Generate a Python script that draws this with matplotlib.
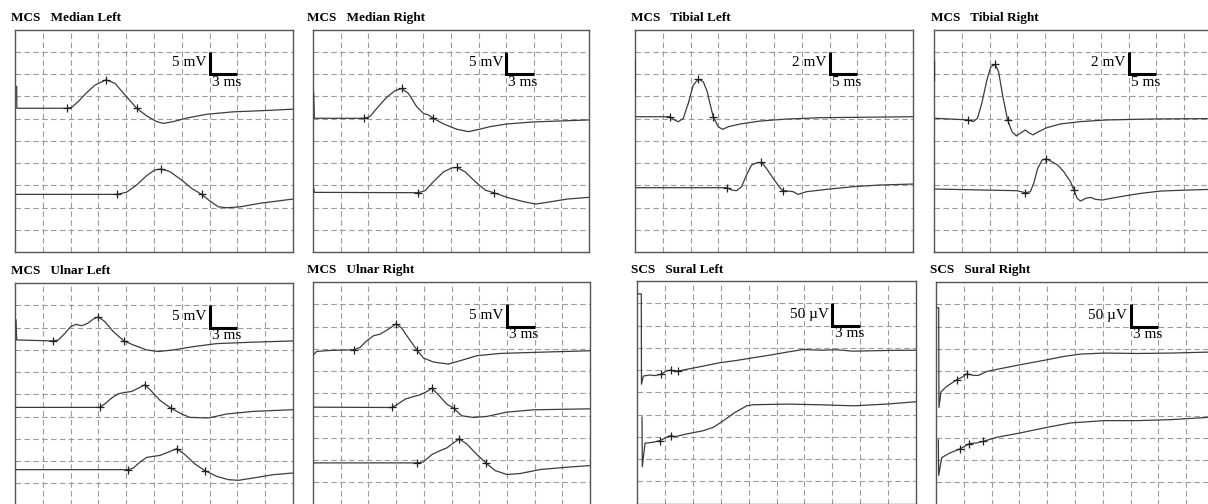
import numpy as np
import matplotlib
matplotlib.use("Agg")
import matplotlib.pyplot as plt

nan = np.nan

# ---- traces: time (ms) and amplitude (mV or uV) relative to baseline ----
# Median Left (3 ms/div, 5 mV/div)
medL_t1 = [0.18, 0.2, 5.58, 6.12, 6.83, 7.73, 8.63, 9.82, 10.79, 11.87, 13.13, 14.2, 15.29, 16.0, 17.09, 18.53, 20.68, 23.56, 27.16, 30.0]
medL_a1 = [4.9, 0, 0, 0.2, 1.5, 3.5, 5.2, 6.4, 5.6, 3.0, 0, -1.7, -3.0, -3.4, -3.0, -2.2, -1.35, -0.8, -0.5, -0.2]
medL_m1 = [2, 7, 10]
medL_t2 = [0.18, 11.04, 12.05, 13.13, 14.2, 15.1, 15.76, 16.73, 17.99, 19.06, 20.14, 21.04, 21.94, 22.84, 24.28, 26.44, 30.0]
medL_a2 = [0, 0, 0.5, 2.1, 4.2, 5.5, 5.7, 5.1, 3.2, 1.35, 0, -1.5, -2.8, -3.0, -2.8, -2.0, -1.05]
medL_m2 = [1, 6, 10]

# Median Right (3 ms/div, 5 mV/div)
medR_t1 = [0.07, 0.15, 5.56, 6.18, 7.09, 8.0, 8.91, 9.64, 10.36, 11.27, 12.0, 12.55, 13.09, 14.18, 15.64, 16.91, 17.82, 19.27, 21.09, 24.0, 30.0]
medR_a1 = [5.6, 0, 0, 0.37, 2.6, 4.7, 6.2, 6.7, 5.6, 2.6, 1.1, 0.75, 0, -1.27, -2.47, -3.0, -2.6, -1.87, -1.27, -0.82, -0.37]
medR_m1 = [2, 7, 12]
medR_t2 = [0.07, 0.15, 11.45, 12.18, 13.09, 14.18, 15.09, 15.64, 16.55, 17.64, 18.73, 19.64, 21.09, 22.91, 24.18, 25.45, 27.64, 30.0]
medR_a2 = [0.9, 0, -0.07, 0.37, 2.4, 4.6, 5.5, 5.6, 4.6, 2.4, 0.5, -0.07, -1.12, -2.1, -2.62, -2.24, -1.5, -1.12]
medR_m2 = [2, 7, 11]

# Tibial Left (5 ms/div, 2 mV/div)
tibL_t1 = [0.05, 0.05, nan, 0.3, 6.29, 6.89, 7.78, 8.68, 9.58, 10.48, 11.38, 12.28, 13.0, 13.47, 14.07, 14.97, 15.75, 16.77, 18.86, 22.46, 27.25, 33.23, 50]
tibL_a1 = [5.1, 2.1, nan, 0, 0, -0.24, -0.45, -0.15, 1.2, 2.84, 3.38, 3.14, 2.24, 1.2, 0, -0.9, -1.14, -0.9, -0.66, -0.39, -0.21, -0.09, 0]
tibL_m1 = [4, 10, 14]
tibL_t2 = [0.3, 16.59, 17.37, 18.26, 19.16, 20.06, 20.96, 21.86, 22.75, 23.65, 24.85, 25.93, 26.53, 27.54, 28.44, 29.34, 30.84, 34.43, 39.22, 44.01, 50]
tibL_a2 = [0, 0, -0.21, -0.27, 0.09, 1.14, 2.03, 2.24, 2.27, 1.73, 0.84, 0.09, -0.27, -0.3, -0.36, -0.6, -0.36, -0.15, 0.09, 0.24, 0.33]
tibL_m2 = [1, 8, 12]

# Tibial Right (5 ms/div, 2 mV/div)
tibR_t1 = [0.1, 0.1, nan, 0.18, 6.2, 7.1, 7.82, 8.6, 9.51, 10.23, 11.01, 11.61, 12.39, 13.24, 14.02, 14.8, 15.52, 16.43, 17.03, 17.81, 18.83, 20.34, 22.74, 26.35, 31.17, 39.59, 50]
tibR_a1 = [5.1, 3.4, nan, 0, -0.15, -0.3, 0, 1.35, 3.44, 4.63, 4.84, 4.19, 1.94, -0.15, -1.2, -1.58, -1.35, -1.05, -1.29, -1.49, -1.2, -0.84, -0.51, -0.3, -0.15, -0.06, -0.03]
tibR_m1 = [4, 10, 13]
tibR_t2 = [0.18, 14.92, 16.43, 17.33, 17.93, 18.65, 19.43, 20.16, 21.24, 22.26, 23.35, 24.55, 25.15, 25.75, 26.35, 27.26, 28.16, 29.06, 30.26, 31.77, 34.17, 37.18, 40.79, 45.6, 50]
tibR_a2 = [0, -0.15, -0.33, -0.24, 0.51, 1.85, 2.6, 2.72, 2.45, 2.15, 1.55, 0.66, -0.09, -0.84, -1.08, -0.84, -0.75, -0.93, -0.99, -0.84, -0.63, -0.39, -0.18, -0.09, -0.03]
tibR_m2 = [2, 7, 12]

# Ulnar Left (3 ms/div, 5 mV/div)
ulnL_t1 = [0.11, 0.18, 4.14, 4.68, 5.4, 6.0, 6.58, 7.19, 7.81, 8.45, 8.99, 9.71, 10.61, 11.76, 12.77, 14.21, 15.47, 17.09, 19.24, 21.76, 25.36, 30.0]
ulnL_a1 = [4.5, 0, -0.22, 0, 1.5, 3.0, 3.5, 3.2, 3.7, 4.7, 5.2, 4.1, 1.87, -0.22, -1.12, -2.24, -2.6, -2.24, -1.5, -0.82, -0.52, -0.22]
ulnL_m1 = [2, 10, 13]
ulnL_t2 = [0.11, 9.17, 9.71, 10.43, 11.15, 11.87, 12.59, 13.31, 14.03, 14.75, 15.65, 16.8, 17.99, 18.88, 20.86, 22.84, 25.72, 30.0]
ulnL_a2 = [0, 0, 0.82, 2.1, 3.06, 3.36, 3.58, 4.33, 5.07, 3.58, 1.57, -0.15, -1.49, -2.24, -2.39, -1.49, -0.9, -0.52]
ulnL_m2 = [1, 8, 11]
ulnL_t3 = [0.11, 12.23, 12.77, 13.49, 14.21, 14.93, 15.65, 16.55, 17.45, 18.35, 19.42, 20.5, 21.76, 23.02, 24.1, 25.72, 27.88, 30.0]
ulnL_a3 = [0, 0, 0.37, 1.72, 2.76, 2.99, 3.21, 3.96, 4.7, 3.36, 1.27, -0.22, -1.49, -2.24, -2.39, -1.87, -1.12, -0.75]
ulnL_m3 = [1, 8, 11]

# Ulnar Right (3 ms/div, 5 mV/div)
ulnR_t1 = [0.04, 0.4, 1.84, 4.45, 5.1, 5.82, 6.54, 7.27, 8.06, 9.0, 9.61, 10.34, 11.24, 11.96, 13.05, 14.67, 15.94, 17.75, 20.28, 23.89, 30.0]
ulnR_a1 = [-0.9, -0.15, 0.07, 0.22, 0.75, 2.24, 3.36, 3.73, 4.7, 6.04, 5.07, 2.84, 0.22, -1.64, -2.54, -2.99, -2.24, -1.12, -0.6, -0.37, 0]
ulnR_m1 = [3, 9, 12]
ulnR_t2 = [0.04, 8.53, 9.07, 9.98, 10.88, 11.6, 12.33, 12.87, 13.59, 14.49, 15.22, 16.12, 17.39, 18.83, 21.0, 23.89, 30.0]
ulnR_a2 = [0.07, 0, 0.6, 1.87, 2.46, 2.84, 3.58, 4.33, 2.84, 0.75, -0.15, -1.87, -2.24, -2.01, -1.04, -0.52, -0.3]
ulnR_m2 = [1, 7, 10]
ulnR_t3 = [0.04, 11.24, 11.96, 12.87, 13.77, 14.49, 15.22, 15.83, 16.66, 17.75, 18.76, 19.73, 20.99, 22.44, 24.61, 27.5, 30.0]
ulnR_a3 = [0, 0, 0.22, 1.87, 2.76, 3.36, 4.48, 5.37, 4.25, 1.87, -0.07, -1.72, -2.61, -2.39, -1.49, -0.97, -0.6]
ulnR_m3 = [1, 7, 10]

# Sural Left (3 ms/div, 50 uV/div)
surL_t1 = [0, 0.46, 0.48, 0.68, 1.4, 1.94, 2.55, 3.19, 3.62, 4.09, 4.44, 5.34, 7.13, 8.92, 10.72, 12.51, 14.3, 16.1, 17.88, 19.68, 21.47, 23.26, 26.85, 30.0]
surL_a1 = [184.6, 184.6, -18.5, 0, 2.2, 0.9, 3.8, 11.2, 13.4, 9.8, 11.2, 15.0, 22.3, 29.9, 35.0, 41.1, 46.9, 53.6, 59.6, 58.0, 58.9, 55.8, 57.4, 58.0]
surL_m1 = [6, 8, 10]
surL_t2 = [0.54, 0.57, 0.86, 1.76, 2.47, 3.19, 3.62, 4.09, 5.34, 7.13, 8.21, 9.28, 10.54, 11.8, 12.51, 16.1, 19.68, 23.26, 26.85, 30.0]
surL_a2 = [58.7, -52.9, 0, 2.2, 5.8, 13.4, 17.0, 14.7, 20.8, 28.1, 35.7, 50.4, 69.2, 84.0, 86.4, 87.9, 86.4, 84.0, 87.9, 93.1]
surL_m2 = [4, 6]

# Sural Right (3 ms/div, 50 uV/div)
surR_t1 = [0, 0.29, 0.32, 0.54, 1.16, 2.24, 2.78, 3.32, 4.04, 4.58, 5.49, 7.29, 9.1, 11.99, 13.79, 15.6, 18.13, 21.74, 25.35, 29.46, 30.2]
surR_a1 = [184, 184, -40, -4.5, 7.4, 22.4, 27.6, 35.9, 32.1, 32.1, 41.0, 48.7, 56.1, 67.3, 74.7, 80.0, 82.3, 81.4, 82.3, 84.5, 85]
surR_m1 = [5, 7]
surR_t2 = [0.25, 0.29, 0.62, 1.52, 2.6, 3.61, 4.41, 5.12, 6.57, 9.1, 11.99, 14.51, 18.13, 21.74, 25.35, 29.46, 30.2]
surR_a2 = [40, -40, 0, 10.5, 19.5, 31.4, 33.0, 36.5, 45.5, 55.4, 67.9, 77.8, 83.0, 83.0, 85.2, 90.4, 91]
surR_m2 = [4, 5, 7]

W, H = 1208, 504
fig = plt.figure(figsize=(W / 100, H / 100), dpi=100)
fig.patch.set_facecolor("white")

SERIF = ["Liberation Serif", "DejaVu Serif"]


def panel(box, title, title_x, title_y, ms_div, amp_div, amp_lbl, time_lbl, traces):
    x0, y0, x1, y1 = box
    ax = fig.add_axes([x0 / W, 1 - y1 / H, (x1 - x0) / W, (y1 - y0) / H])
    ax.set_xlim(0, 10 * ms_div)
    ax.set_ylim(10, 0)
    ax.set_xticks(np.arange(1, 10) * ms_div)
    ax.set_yticks(np.arange(1, 10))
    ax.tick_params(length=0, labelbottom=False, labelleft=False)
    ax.grid(True, color="#9c9c9c", lw=0.8, ls=(0, (5, 3)))
    ax.set_axisbelow(True)
    for s in ax.spines.values():
        s.set_color("#555555")
        s.set_linewidth(1.0)

    for t, a, base, mk in traces:
        t = np.array(t, float)
        y = base - np.array(a, float) / amp_div
        ax.plot(t, y, color="#3c3c3c", lw=0.9, zorder=3)
        ax.plot(t[mk], y[mk], "+", color="#202020", ms=6, mew=0.9, zorder=4)

    # calibration bar
    ax.plot([7 * ms_div, 7 * ms_div, 8 * ms_div], [1, 2, 2], color="black",
            lw=2.2, solid_joinstyle="miter", solid_capstyle="butt", zorder=5)
    ax.text(6.88 * ms_div, 1.5, amp_lbl, ha="right", va="center",
            fontsize=11, family=SERIF, zorder=5)
    ax.text(7.08 * ms_div, 2.38, time_lbl, ha="left", va="center",
            fontsize=11, family=SERIF, zorder=5)

    fig.text(title_x / W, 1 - title_y / H, title, ha="left", va="center",
             fontsize=9.5, fontweight="bold", family=SERIF)


panel((15, 29.5, 293, 252), "MCS   Median Left", 11, 18, 3, 5, "5 mV", "3 ms",
      [(medL_t1, medL_a1, 3.54, medL_m1), (medL_t2, medL_a2, 7.41, medL_m2)])
panel((313, 29.5, 589, 252), "MCS   Median Right", 307, 18, 3, 5, "5 mV", "3 ms",
      [(medR_t1, medR_a1, 3.99, medR_m1), (medR_t2, medR_a2, 7.32, medR_m2)])
panel((635, 29.5, 913, 252), "MCS   Tibial Left", 631, 18, 5, 2, "2 mV", "5 ms",
      [(tibL_t1, tibL_a1, 3.92, tibL_m1), (tibL_t2, tibL_a2, 7.11, tibL_m2)])
panel((934, 29.5, 1212, 252), "MCS   Tibial Right", 931, 18, 5, 2, "2 mV", "5 ms",
      [(tibR_t1, tibR_a1, 3.99, tibR_m1), (tibR_t2, tibR_a2, 7.17, tibR_m2)])

panel((15, 283, 293, 505.5), "MCS   Ulnar Left", 11, 271, 3, 5, "5 mV", "3 ms",
      [(ulnL_t1, ulnL_a1, 2.56, ulnL_m1), (ulnL_t2, ulnL_a2, 5.59, ulnL_m2),
       (ulnL_t3, ulnL_a3, 8.39, ulnL_m3)])
panel((313, 282, 590, 504.5), "MCS   Ulnar Right", 307, 270, 3, 5, "5 mV", "3 ms",
      [(ulnR_t1, ulnR_a1, 3.09, ulnR_m1), (ulnR_t2, ulnR_a2, 5.64, ulnR_m2),
       (ulnR_t3, ulnR_a3, 8.13, ulnR_m3)])
panel((637, 281, 916, 503.5), "SCS   Sural Left", 631, 270, 3, 50, "50 µV", "3 ms",
      [(surL_t1, surL_a1, 4.27, surL_m1), (surL_t2, surL_a2, 7.29, surL_m2)])
panel((936, 282, 1214, 504.5), "SCS   Sural Right", 930, 270, 3, 50, "50 µV", "3 ms",
      [(surR_t1, surR_a1, 4.84, surR_m1), (surR_t2, surR_a2, 7.89, surR_m2)])

fig.savefig("out.png", dpi=100)
